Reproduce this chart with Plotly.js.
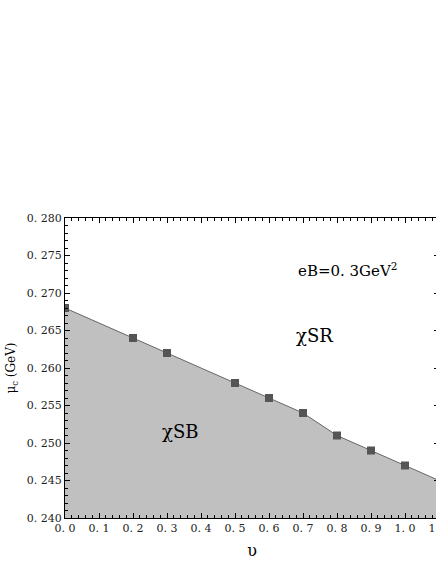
<!DOCTYPE html>
<html>
<head>
<meta charset="utf-8">
<script src="https://cdn.plot.ly/plotly-3.0.1.min.js"></script>
<style>
  html, body { margin: 0; padding: 0; background: #fff; overflow: hidden; }
  #chart { width: 470px; height: 564px; }
</style>
</head>
<body>
<div id="chart"></div>
<script>
// phase boundary mu_c vs upsilon at eB = 0.3 GeV^2
const upsilon = [0.0, 0.2, 0.3, 0.5, 0.6, 0.7, 0.8, 0.9, 1.0];
const muC = [0.268, 0.264, 0.262, 0.258, 0.256, 0.254, 0.251, 0.249, 0.247];
// line runs on to the right edge of the frame
const edgeX = 1.1;
const edgeY = 0.245;

const xTickVals = [0.0, 0.1, 0.2, 0.3, 0.4, 0.5, 0.6, 0.7, 0.8, 0.9, 1.0, 1.1];
const xTickText = ["0. 0", "0. 1", "0. 2", "0. 3", "0. 4", "0. 5", "0. 6", "0. 7", "0. 8", "0. 9", "1. 0", "1. 1"];
const yTickVals = [0.240, 0.245, 0.250, 0.255, 0.260, 0.265, 0.270, 0.275, 0.280];
const yTickText = ["0. 240", "0. 245", "0. 250", "0. 255", "0. 260", "0. 265", "0. 270", "0. 275", "0. 280"];

const serif = "DejaVu Serif";

const axisCommon = {
  showline: true,
  linecolor: "#000",
  linewidth: 1,
  mirror: "ticks",
  ticks: "inside",
  ticklen: 5,
  tickcolor: "#000",
  showgrid: false,
  zeroline: false,
  tickmode: "array",
  tickfont: { family: serif, size: 11, color: "#222" }
};

Plotly.newPlot("chart", [{
  x: upsilon.concat([edgeX]),
  y: muC.concat([edgeY]),
  type: "scatter",
  mode: "lines",
  fill: "tozeroy",
  fillcolor: "#c0c0c0",
  line: { color: "#666", width: 1 },
  hoverinfo: "skip"
}, {
  x: upsilon,
  y: muC,
  type: "scatter",
  mode: "markers",
  marker: { symbol: "square", size: 8, color: "#555" }
}], {
  width: 470,
  height: 564,
  showlegend: false,
  paper_bgcolor: "#fff",
  plot_bgcolor: "#fff",
  font: { family: serif },
  margin: { t: 218, b: 46, l: 65, r: 31 },
  xaxis: Object.assign({}, axisCommon, {
    range: [0, 1.1],
    tickvals: xTickVals,
    ticktext: xTickText,
    minor: { ticks: "inside", dtick: 0.02, ticklen: 3, tickcolor: "#000" },
    title: { text: "υ", font: { family: serif, size: 16, color: "#000" }, standoff: 10 }
  }),
  yaxis: Object.assign({}, axisCommon, {
    range: [0.240, 0.280],
    tickvals: yTickVals,
    ticktext: yTickText,
    minor: { ticks: "inside", dtick: 0.001, ticklen: 3, tickcolor: "#000" },
    title: { text: "μ<sub>c</sub> (GeV)", font: { family: serif, size: 12, color: "#000" }, standoff: 8 }
  }),
  annotations: [{
    x: 0.83, y: 0.2731, xref: "x", yref: "y", showarrow: false,
    text: "eB=0. 3GeV<sup>2</sup>",
    font: { family: serif, size: 15, color: "#000" }
  }, {
    x: 0.735, y: 0.2644, xref: "x", yref: "y", showarrow: false,
    text: "χSR",
    font: { family: serif, size: 18, color: "#000" }
  }, {
    x: 0.338, y: 0.2515, xref: "x", yref: "y", showarrow: false,
    text: "χSB",
    font: { family: serif, size: 18, color: "#000" }
  }]
}, { displayModeBar: false, staticPlot: true });
</script>
</body>
</html>
